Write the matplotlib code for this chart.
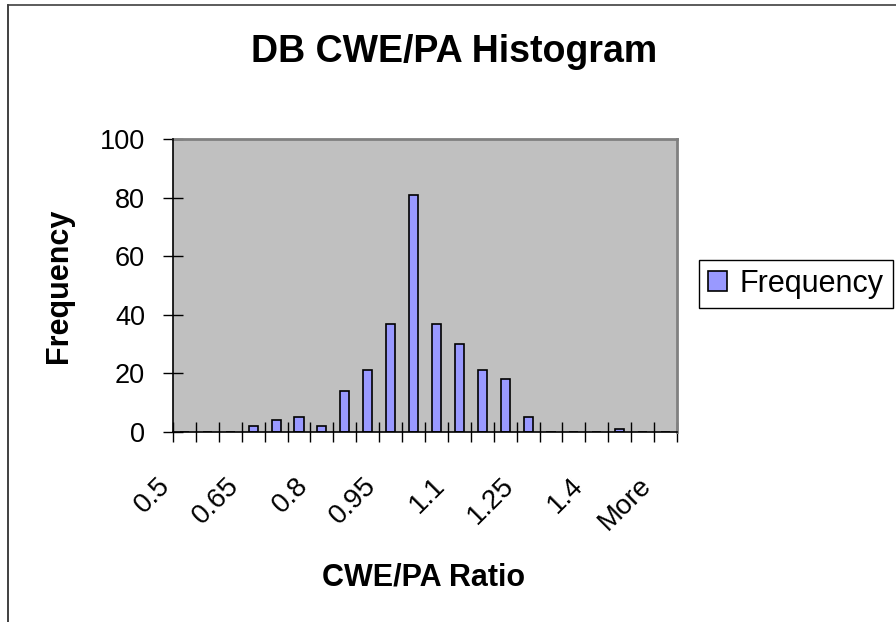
import numpy as np
import matplotlib
matplotlib.use("Agg")
import matplotlib.pyplot as plt
from matplotlib.patches import Patch
from matplotlib.transforms import ScaledTranslation

plt.rcParams['font.family'] = ['Liberation Sans', 'DejaVu Sans']

# histogram bins (upper edges) and counts
bins = ['0.5', '0.55', '0.6', '0.65', '0.7', '0.75', '0.8', '0.85', '0.9', '0.95', '1',
        '1.05', '1.1', '1.15', '1.2', '1.25', '1.3', '1.35', '1.4', '1.45', '1.5', 'More']
freq = [0, 0, 0, 2, 4, 5, 2, 14, 21, 37, 81, 37, 30, 21, 18, 5, 0, 0, 0, 1, 0, 0]
yticks = [0, 20, 40, 60, 80, 100]

W, H = 896, 622
fig = plt.figure(figsize=(W / 100, H / 100), dpi=100)
ax = fig.add_axes([173 / W, 1 - 432 / H, 504 / W, 293 / H])
ax.set_facecolor('#C0C0C0')

x = np.arange(len(bins))
ax.bar(x, freq, width=0.4, color='#9999FF', edgecolor='black', linewidth=1.2, zorder=3)

ax.set_xlim(-0.5, len(bins) - 0.5)
ax.set_ylim(0, 100)

# tick marks at bin boundaries, labels on every third bin
ax.set_xticks(np.arange(-0.5, len(bins), 1))
ax.set_xticklabels([])
ax.set_xticks(x[::3], [bins[i] for i in x[::3]], minor=True)
ax.tick_params(axis='x', which='major', direction='inout', length=14.4, width=1, color='black')
ax.tick_params(axis='x', which='minor', length=0, pad=36, labelsize=20)
for lbl in ax.get_xticklabels(minor=True):
    lbl.set_rotation(45)
    lbl.set_rotation_mode('anchor')
    lbl.set_ha('right')
    lbl.set_va('center')
    lbl.set_transform(lbl.get_transform() + ScaledTranslation(-0.18, 0, fig.dpi_scale_trans))

ax.set_yticks(yticks)
ax.tick_params(axis='y', direction='inout', length=14.4, width=1, pad=13, labelsize=19.5)

for s in ['left', 'bottom']:
    ax.spines[s].set_color('black')
    ax.spines[s].set_linewidth(1.2)
    ax.spines[s].set_zorder(4)
for s in ['top', 'right']:
    ax.spines[s].set_color('#808080')
    ax.spines[s].set_linewidth(2)

fig.text(454.5 / W, 1 - 62 / H, 'DB CWE/PA Histogram', ha='center', va='baseline',
         fontsize=27, fontweight='bold')
fig.text(424 / W, 1 - 585 / H, 'CWE/PA Ratio', ha='center', va='baseline',
         fontsize=22, fontweight='bold')
fig.text(66.5 / W, 1 - 286 / H, 'Frequency', rotation=90, rotation_mode='anchor',
         ha='center', va='baseline', fontsize=22, fontweight='bold')

handle = Patch(facecolor='#9999FF', edgecolor='black', linewidth=1.2)
leg = fig.legend([handle], ['Frequency'], loc='center left',
                 bbox_to_anchor=(699 / W, 1 - 284 / H), fontsize=22,
                 fancybox=False, edgecolor='black', framealpha=1,
                 borderpad=0.3, handletextpad=0.4, borderaxespad=0,
                 handlelength=0.62, handleheight=0.62)
leg.get_frame().set_linewidth(1)

# chart area border
fig.add_artist(plt.Line2D([7.5 / W, 7.5 / W], [0, 1 - 5 / H], color='#202020', lw=1.2))
fig.add_artist(plt.Line2D([7.5 / W, 1], [1 - 5 / H, 1 - 5 / H], color='#404040', lw=1.2))

fig.savefig('out.png', dpi=100)
